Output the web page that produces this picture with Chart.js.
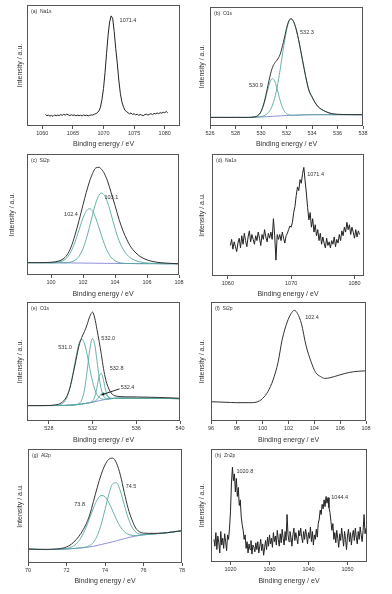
<!DOCTYPE html>
<html><head><meta charset="utf-8">
<script src="https://cdn.jsdelivr.net/npm/chart.js@4.4.1/dist/chart.umd.min.js"></script>
<style>
html,body{margin:0;padding:0;background:#fff;}
#wrap{position:relative;width:392px;height:594px;overflow:hidden;background:#fff;}
canvas{position:absolute;}
</style></head><body><div id="wrap"></div>
<script>
// ---------- DATA (intensity in % of panel height) ----------
// (a) Na1s  – energies on a 0.25 eV channel grid starting at 1060.5
const aStart = 1060.5, aStep = 0.25;
const aY = [9.5, 8.5, 9.0, 8.2, 8.8, 7.9, 9.2, 8.4, 9.0, 8.6, 9.4, 8.8, 9.6, 9.0, 9.8, 9.2, 8.6, 9.3, 8.8, 9.1,
  8.4, 9.0, 8.6, 8.9, 8.3, 9.2, 8.5, 9.0, 8.4, 8.8, 9.2, 9.0, 9.8, 10.2, 11.0, 12.5,
  15.5, 22, 31, 44, 60, 75, 86, 91, 89, 78, 64, 52, 38, 27, 20, 16, 13, 12, 11.0, 10.0,
  10.8, 9.5, 10.2, 9.2, 9.8, 8.8, 9.5, 9.0, 8.6, 9.4, 9.8, 9.0, 9.6, 10.2, 9.4, 10.4, 10.0, 10.8, 10.2, 11.0,
  10.6, 11.4, 11.0, 12.0, 10.8];
const aTicks = [1060, 1065, 1070, 1075, 1080];
const aPeakLabels = ['1071.4'];

// (b) O1s
const bX = [526, 527, 528, 528.5, 529, 529.5, 529.75, 530, 530.25, 530.5, 530.75, 530.9, 531.1, 531.25, 531.5,
  531.75, 532, 532.15, 532.35, 532.55, 532.75, 533, 533.25, 533.5, 533.75, 534, 534.25, 534.5, 535, 535.5, 536, 537, 538];
const bBase = [7.2, 7.2, 7.2, 7.2, 7.2, 7.4, 7.5, 7.6, 7.75, 7.9, 8.05, 8.15, 8.25, 8.35, 8.5,
  8.65, 8.8, 8.85, 8.95, 9.0, 9.1, 9.2, 9.3, 9.4, 9.45, 9.5, 9.5, 9.5, 9.5, 9.5, 9.5, 9.5, 9.5];
const bPk1 = [7.2, 7.2, 7.2, 7.2, 7.2, 7.6, 8.7, 11.9, 19.0, 29.3, 38.0, 39.8, 36.9, 31.7, 21.5,
  14.0, 10.4, 9.5, 9.1, 9.0, 9.1, 9.2, 9.3, 9.4, 9.45, 9.5, 9.5, 9.5, 9.5, 9.5, 9.5, 9.5, 9.5];
const bPk2 = [7.2, 7.2, 7.2, 7.2, 7.2, 7.4, 7.6, 7.9, 8.7, 10.4, 13.9, 17.6, 24.6, 31.9, 47.2,
  64.8, 80.3, 86.7, 90.0, 87.8, 81.6, 69.7, 55.6, 41.8, 30.3, 24.5, 19.5, 16, 12.5, 10.5, 9.8, 9.6, 9.5];
const bEnv = [7.2, 7.2, 7.2, 7.2, 7.2, 7.6, 8.8, 12.2, 20.0, 31.8, 43.9, 49.3, 53.3, 55.3, 60.2,
  70.2, 81.9, 87.4, 90.2, 87.8, 81.6, 69.7, 55.6, 41.8, 30.3, 24.5, 19.5, 16, 12.5, 10.5, 9.8, 9.6, 9.5];
const bTicks = [526, 528, 530, 532, 534, 536, 538];
const bPeakLabels = ['530.9', '532.3'];

// (c) Si2p
const cX = [98.5, 99, 100, 100.5, 100.75, 101, 101.25, 101.5, 101.75, 102, 102.2, 102.4, 102.6, 102.8, 103,
  103.15, 103.35, 103.55, 103.75, 104, 104.25, 104.5, 104.75, 105, 105.5, 106, 106.5, 107, 108];
const cBase = [10.2, 10.2, 10.1, 10.1, 10.0, 10.0, 10.0, 9.9, 9.9, 9.9, 9.8, 9.8, 9.8, 9.7, 9.7,
  9.7, 9.6, 9.6, 9.6, 9.6, 9.5, 9.5, 9.5, 9.5, 9.4, 9.4, 9.4, 9.3, 9.3];
const cPk1 = [10.2, 10.2, 10.1, 10.7, 11.8, 14.4, 19.4, 27.2, 37.2, 47.1, 52.7, 54.8, 52.7, 46.9, 39.1,
  32.8, 25.1, 19.0, 14.8, 11.8, 10.3, 9.7, 9.5, 9.5, 9.4, 9.4, 9.4, 9.3, 9.3];
const cPk2 = [10.2, 10.2, 10.1, 10.1, 10.1, 10.2, 10.8, 12.2, 15.4, 21.8, 29.6, 39.4, 50, 59.5, 66,
  67.7, 65.5, 59.5, 50.5, 38.5, 28.5, 21.5, 16.8, 13.8, 11, 9.9, 9.5, 9.4, 9.3];
const cEnv = [10.2, 10.2, 10.5, 11.6, 13.2, 16.5, 23, 33, 45, 58, 68, 77, 84, 88.5, 89,
  87.5, 83.5, 77, 68.5, 57.5, 46, 36.5, 29, 23, 16, 12.5, 10.8, 10, 9.3];
const cTicks = [100, 102, 104, 106, 108];
const cPeakLabels = ['102.4', '103.1'];

// (d) Na1s – 0.2 eV channel grid starting at 1060.4
const dStart = 1060.4, dStep = 0.2;
const dY = [25, 30, 22, 28, 24, 20, 27, 31, 23,
  33, 26, 35, 29, 24, 32, 37, 28, 34, 30,
  26, 33, 29, 36, 31, 25, 34, 30, 38, 32,
  28, 35, 31, 36, 30, 47, 33, 13, 34, 30,
  34, 29, 36, 31, 27, 33, 35, 38, 41, 40,
  44, 52, 57, 66, 73, 70, 79, 76, 84, 89,
  78, 68, 56, 46, 52, 40, 47, 36, 42, 33,
  38, 29, 35, 26, 32, 27, 23, 31, 25, 28,
  23, 29, 26, 32, 24, 30, 27, 34, 29, 37,
  33, 40, 36, 44, 38, 42, 34, 40, 36, 31,
  38, 32, 37, 34];
const dTicks = [1060, 1070, 1080];
const dPeakLabels = ['1071.4'];

// (e) O1s
const eX = [526, 527, 528, 528.5, 529, 529.5, 529.75, 530, 530.25, 530.5, 530.75, 531, 531.25, 531.5, 531.75,
  532, 532.2, 532.4, 532.6, 532.8, 533, 533.2, 533.4, 533.6, 533.8, 534, 534.5, 535, 536, 537, 538, 539, 540];
const eBase = [13, 13, 13, 13, 13, 13.1, 13.2, 13.3, 13.5, 13.7, 14, 14.3, 14.6, 15, 15.4,
  15.8, 16.2, 16.6, 17, 17.4, 17.8, 18.1, 18.4, 18.7, 18.9, 19, 19.1, 19.1, 19, 19, 18.9, 18.9, 18.8];
const eC1 = [13, 13, 13, 13, 13.5, 17.2, 22.2, 30.6, 42.0, 54.6, 64.7, 68.8, 65.3, 55.9, 43.9,
  33.1, 26.6, 22.3, 19.9, 18.7, 18.3, 18.3, 18.4, 18.7, 18.9, 19, 19.1, 19.1, 19, 19, 18.9, 18.9, 18.8];
const eC2 = [13, 13, 13, 13, 13, 13.1, 13.2, 13.3, 13.5, 13.8, 14.7, 17.6, 25.8, 41.8, 60.4,
  69.3, 64.1, 50.9, 36.7, 26.4, 21.1, 19.1, 18.6, 18.7, 18.9, 19, 19.1, 19.1, 19, 19, 18.9, 18.9, 18.8];
const eC3 = [13, 13, 13, 13, 13, 13.1, 13.2, 13.3, 13.5, 13.7, 14, 14.3, 14.6, 15, 15.5,
  16.8, 20.5, 28.2, 37.3, 40.1, 34.1, 25.6, 20.6, 19.1, 18.9, 19, 19.1, 19.1, 19, 19, 18.9, 18.9, 18.8];
const eC4 = [13, 13, 13, 13, 13, 13.1, 13.2, 13.3, 13.5, 13.7, 14, 14.3, 14.6, 15, 15.4,
  15.9, 16.6, 17.9, 20.2, 22.7, 23.7, 22.5, 20.6, 19.4, 19.1, 19.0, 19.1, 19.1, 19, 19, 18.9, 18.9, 18.8];
const eEnv = [12.9, 12.9, 13.0, 13.5, 14.5, 18.5, 23, 30.5, 41, 52, 63, 70, 75, 81, 88,
  91.5, 86.5, 77, 67, 56, 44, 35, 29, 25, 22.5, 21.3, 20.5, 20.3, 20.2, 20, 19.8, 19.5, 19.1];
const eTicks = [528, 532, 536, 540];
const ePeakLabels = ['531.0', '532.0', '532.8', '532.4'];

// (f) Si2p
const fX = [96, 97, 98, 99, 99.4, 99.75, 100, 100.4, 100.8, 101.2, 101.5, 101.9, 102.2, 102.45, 102.7,
  103, 103.35, 103.75, 104.1, 104.5, 104.8, 105.2, 105.9, 106.7, 107.4, 108];
const fY = [16.2, 15.8, 15.4, 15.4, 15.6, 16.8, 19, 24.6, 34.4, 49.7, 67.9, 83.2, 90.2, 93, 90.2,
  81.8, 63.7, 49.7, 40.8, 37.2, 35.8, 36.3, 38.5, 40.8, 41.8, 42.2];
const fTicks = [96, 98, 100, 102, 104, 106, 108];
const fPeakLabels = ['102.4'];

// (g) Al2p
const gX = [70, 70.5, 71, 71.5, 72, 72.25, 72.5, 72.75, 73, 73.2, 73.4, 73.6, 73.8, 74, 74.2,
  74.4, 74.6, 74.8, 75, 75.2, 75.4, 75.6, 75.8, 76, 76.5, 77, 77.5, 78];
const gBase = [12.2, 11.9, 11.8, 12, 12.3, 12.6, 12.9, 13.3, 13.7, 14.1, 14.6, 15.4, 16.2, 17, 17.8,
  18.6, 19.5, 20.4, 21.3, 22.2, 23, 23.6, 24.2, 24.7, 25.5, 26.2, 27.2, 28.3];
const gC1 = [12.2, 11.9, 11.8, 12, 12.7, 14.0, 16.7, 22.1, 30.6, 39.3, 48.3, 55.6, 59.2, 58.1, 53.0,
  45.6, 38.0, 31.7, 27.5, 25.3, 24.3, 24.1, 24.4, 24.7, 25.5, 26.2, 27.2, 28.3];
const gC2 = [12.2, 11.9, 11.8, 12, 12.3, 12.6, 12.9, 13.3, 14.0, 15.3, 18.1, 24.0, 33.7, 46.8, 60.4,
  69.5, 70.4, 63.0, 51.1, 39.7, 31.6, 27.1, 25.4, 25.0, 25.5, 26.2, 27.2, 28.3];
const gEnv = [12.2, 12.0, 12.0, 12.3, 14.0, 16.5, 20.4, 26, 33.5, 42, 54, 66.5, 77.5, 86, 91,
  92, 87.5, 77, 62, 48, 37.9, 30.5, 27.3, 26.2, 26, 26.2, 27.2, 28.3];
const gTicks = [70, 72, 74, 76, 78];
const gPeakLabels = ['73.8', '74.5'];

// (h) Zn2p – 0.25 eV channel grid starting at 1015.75
const hStart = 1015.75, hStep = 0.25;
const hY = [20,
  14, 26, 11, 23,  17, 8, 27, 15,  21, 12, 25, 18,  10, 24, 20, 30,
  45, 70, 84, 72,  78, 62, 74, 58,  66, 50, 55, 40,  33, 28, 20, 24,
  12, 18, 8, 16,  11, 19, 7, 15,  13, 9, 17, 11,  18, 8, 14, 20,
  10, 16, 6, 13,  19, 11, 22, 14,  24, 16, 21, 13,  26, 18, 23, 15,
  28, 20, 14, 25,  17, 29, 21, 15,  27, 19, 42, 24,  18, 27, 22, 14,
  24, 30, 19, 26,  21, 16, 28, 23,  30, 22, 17, 27,  20, 29, 24, 16,
  26, 21, 31, 18,  27, 15, 24, 20,  29, 22, 34, 38,  46, 42, 51, 47,
  55, 49, 58, 52,  57, 48, 44, 36,  28, 34, 20, 26,  17, 28, 21, 13,
  25, 19, 30, 22,  14, 27, 20, 11,  23, 29, 18, 26,  15, 24, 28, 19,
  30, 22, 16, 27,  20, 31, 24, 18,  28, 42, 25, 30];
const hTicks = [1020, 1030, 1040, 1050];
const hPeakLabels = ['1020.8', '1044.4'];

// ---------- DRAWING ----------
const FONT = "'Liberation Sans', Arial, Helvetica, sans-serif";
Chart.defaults.font.family = FONT;
Chart.defaults.color = '#333';
const INK = '#333333', TEAL = '#58a8a2', BLUE = '#8083d6', BOX = '#555555';

function channels(start, step, n) { const o = []; for (let i = 0; i < n; i++) o.push(+(start + i * step).toFixed(3)); return o; }
function pts(xs, ys) { return xs.map((x, i) => ({ x: x, y: ys[i] })); }

const aX = channels(aStart, aStep, aY.length);
const dX = channels(dStart, dStep, dY.length);
const hX = channels(hStart, hStep, hY.length);

const panels = [
  { geo: { L: 27, T: 5, R: 180, B: 126, tx: 20, ty: 144 }, xr: [1057.5, 1082.5], ticks: aTicks, tag: '(a)  Na1s',
    series: [{ x: aX, y: aY, kind: 'raw' }], labels: aPeakLabels, at: [[1074.0, 87]] },
  { geo: { L: 210, T: 7, R: 363, B: 126, tx: 202, ty: 144 }, xr: [526, 538], ticks: bTicks, tag: '(b)  O1s',
    series: [{ x: bX, y: bEnv, kind: 'env' }, { x: bX, y: bPk1, kind: 'comp' }, { x: bX, y: bPk2, kind: 'comp' }, { x: bX, y: bBase, kind: 'base' }],
    labels: bPeakLabels, at: [[529.6, 34], [533.6, 78.4]] },
  { geo: { L: 27, T: 154, R: 179, B: 275, tx: 12, ty: 294 }, xr: [98.5, 108], ticks: cTicks, tag: '(c)  Si2p',
    series: [{ x: cX, y: cEnv, kind: 'env' }, { x: cX, y: cPk1, kind: 'comp' }, { x: cX, y: cPk2, kind: 'comp' }, { x: cX, y: cBase, kind: 'base' }],
    labels: cPeakLabels, at: [[101.25, 50.4], [103.77, 64.2]] },
  { geo: { L: 212, T: 154, R: 364, B: 276, tx: 202, ty: 294 }, xr: [1057.5, 1081.5], ticks: dTicks, tag: '(d)  Na1s',
    series: [{ x: dX, y: dY, kind: 'raw' }], labels: dPeakLabels, at: [[1073.85, 83.6]] },
  { geo: { L: 27, T: 302, R: 180, B: 421, tx: 20, ty: 440 }, xr: [526, 540], ticks: eTicks, tag: '(e)  O1s',
    series: [{ x: eX, y: eEnv, kind: 'env' }, { x: eX, y: eC1, kind: 'comp' }, { x: eX, y: eC2, kind: 'comp' },
             { x: eX, y: eC3, kind: 'comp' }, { x: eX, y: eC4, kind: 'comp' }, { x: eX, y: eBase, kind: 'base' }],
    labels: ePeakLabels, at: [[529.48, 61.8], [533.43, 69.7], [534.2, 43.8], [535.2, 28.1]],
    arrow: [[534.47, 27], [532.8, 21.9]] },
  { geo: { L: 211, T: 302, R: 366, B: 421, tx: 202, ty: 440 }, xr: [96, 108], ticks: fTicks, tag: '(f)  Si2p',
    series: [{ x: fX, y: fY, kind: 'env' }], labels: fPeakLabels, at: [[103.82, 86.9]] },
  { geo: { L: 28, T: 449, R: 182, B: 563, tx: 20, ty: 581 }, xr: [70, 78], ticks: gTicks, tag: '(g)  Al2p',
    series: [{ x: gX, y: gEnv, kind: 'env' }, { x: gX, y: gC1, kind: 'comp' }, { x: gX, y: gC2, kind: 'comp' }, { x: gX, y: gBase, kind: 'base' }],
    labels: gPeakLabels, at: [[72.68, 51], [75.35, 66.8]] },
  { geo: { L: 211, T: 449, R: 367, B: 562, tx: 202, ty: 581 }, xr: [1015, 1055], ticks: hTicks, tag: '(h)  Zn2p',
    series: [{ x: hX, y: hY, kind: 'raw' }], labels: hPeakLabels, at: [[1023.67, 80], [1048.0, 57]] }
];

const STYLE = {
  env:  { borderColor: INK, borderWidth: 1, cubicInterpolationMode: 'monotone', order: 0 },
  raw:  { borderColor: '#222222', borderWidth: 1, tension: 0, order: 0 },
  comp: { borderColor: TEAL, borderWidth: 0.9, cubicInterpolationMode: 'monotone', order: 1 },
  base: { borderColor: BLUE, borderWidth: 0.9, cubicInterpolationMode: 'monotone', order: 2 }
};

const wrap = document.getElementById('wrap');

panels.forEach((p, k) => {
  const g = p.geo;
  const cl = Math.round(g.tx - 4.2), ct = g.T - 3;
  const padR = 14;
  const cw = g.R + padR - cl;
  const hx = Math.round(g.ty + 4.2 - g.B);
  const ch = (g.B - ct) + hx;
  const cv = document.createElement('canvas');
  cv.width = cw; cv.height = ch;
  cv.style.left = cl + 'px'; cv.style.top = ct + 'px';
  cv.style.width = cw + 'px'; cv.style.height = ch + 'px';
  wrap.appendChild(cv);

  const decor = {
    id: 'decor' + k,
    afterDatasetsDraw(chart) {
      const a = chart.chartArea, ctx = chart.ctx;
      ctx.save();
      ctx.strokeStyle = BOX; ctx.lineWidth = 1;
      ctx.strokeRect(a.left + 0.5, a.top + 0.5, a.right - a.left - 1, a.bottom - a.top - 1);
      ctx.restore();
    },
    afterDraw(chart) {
      const a = chart.chartArea, ctx = chart.ctx, xs = chart.scales.x, ys = chart.scales.y;
      ctx.save();
      ctx.fillStyle = INK;
      ctx.font = '5px ' + FONT; ctx.textAlign = 'left'; ctx.textBaseline = 'middle';
      ctx.fillText(p.tag, a.left + 4, a.top + 7);
      ctx.font = '5.5px ' + FONT; ctx.textAlign = 'center';
      p.labels.forEach((t, i) => ctx.fillText(t, xs.getPixelForValue(p.at[i][0]), ys.getPixelForValue(p.at[i][1])));
      if (p.arrow) {
        const x0 = xs.getPixelForValue(p.arrow[0][0]), y0 = ys.getPixelForValue(p.arrow[0][1]);
        const x1 = xs.getPixelForValue(p.arrow[1][0]), y1 = ys.getPixelForValue(p.arrow[1][1]);
        ctx.strokeStyle = '#111'; ctx.lineWidth = 0.9;
        ctx.beginPath(); ctx.moveTo(x0, y0); ctx.lineTo(x1, y1); ctx.stroke();
        const ang = Math.atan2(y1 - y0, x1 - x0), s = 3.2;
        ctx.fillStyle = '#111';
        ctx.beginPath();
        ctx.moveTo(x1, y1);
        ctx.lineTo(x1 - s * Math.cos(ang - 0.45), y1 - s * Math.sin(ang - 0.45));
        ctx.lineTo(x1 - s * Math.cos(ang + 0.45), y1 - s * Math.sin(ang + 0.45));
        ctx.closePath(); ctx.fill();
      }
      ctx.restore();
    }
  };

  new Chart(cv, {
    type: 'line',
    data: {
      datasets: p.series.map(s => Object.assign({
        data: pts(s.x, s.y), pointRadius: 0, pointHoverRadius: 0, fill: false
      }, STYLE[s.kind]))
    },
    options: {
      responsive: false, maintainAspectRatio: false, animation: false, devicePixelRatio: 1,
      events: [],
      layout: { autoPadding: false, padding: { left: 0, top: 3, right: padR, bottom: 0 } },
      plugins: { legend: { display: false }, tooltip: { enabled: false }, title: { display: false } },
      scales: {
        x: {
          type: 'linear', min: p.xr[0], max: p.xr[1],
          afterBuildTicks: s => { s.ticks = p.ticks.map(v => ({ value: v })); },
          afterFit: s => { s.height = hx; },
          grid: { display: true, drawOnChartArea: false, drawTicks: true, tickLength: 3, color: BOX, lineWidth: 1 },
          border: { display: false },
          ticks: { font: { size: 5.5 }, color: INK, padding: 1.5, maxRotation: 0, minRotation: 0, autoSkip: false,
                   callback: v => String(v) },
          title: { display: true, text: 'Binding energy / eV', font: { size: 7 }, color: INK, padding: 0 }
        },
        y: {
          type: 'linear', min: 0, max: 100,
          afterFit: s => { s.width = g.L - cl; },
          grid: { display: false }, border: { display: false }, ticks: { display: false },
          title: { display: true, text: 'Intensity / a.u.', font: { size: 7 }, color: INK, padding: 0 }
        }
      }
    },
    plugins: [decor]
  });
});
</script>
</body></html>
